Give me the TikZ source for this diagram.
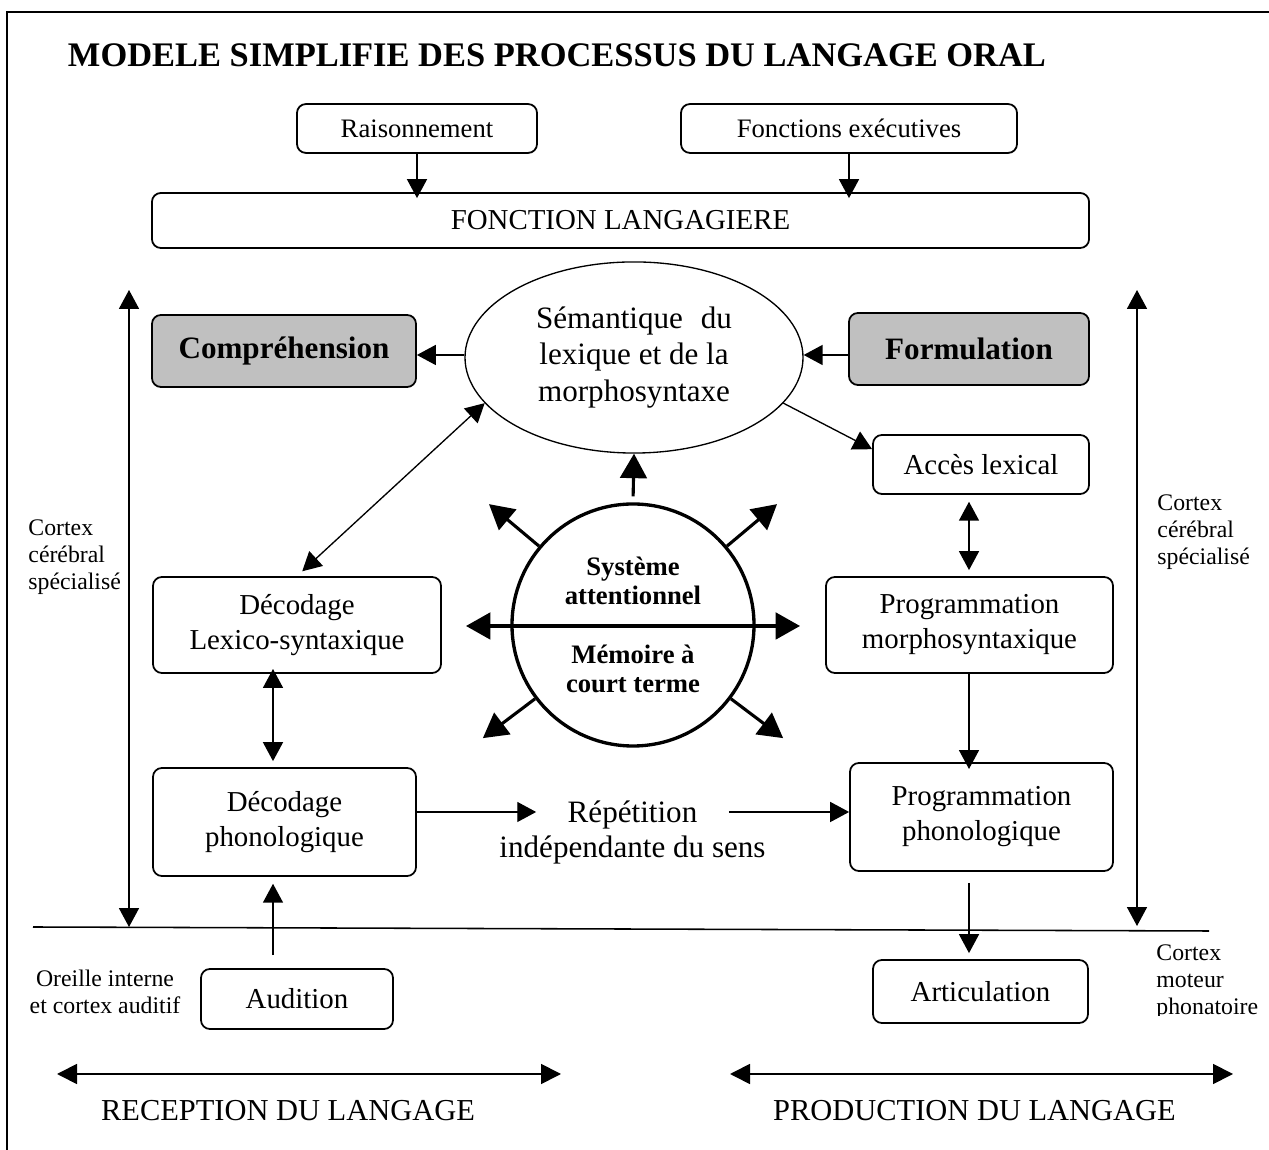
\documentclass[tikz,border=0pt]{standalone}
\usepackage{fontspec}
\setmainfont{Liberation Serif}
\usepackage{tikz}
\usetikzlibrary{positioning,shapes.geometric,arrows.meta}

\begin{document}
\begin{tikzpicture}[x=0.45pt,y=0.45pt,
  box/.style={draw=drawColor,line width=0.8pt,rounded corners=4pt,align=center,inner sep=0pt,font=\fontsize{13}{15.7}\selectfont},
  smallbox/.style={box,font=\fontsize{12}{14}\selectfont},
  greybox/.style={box,fill=fillColor,font=\bfseries\fontsize{14}{17}\selectfont},
  note/.style={align=left,inner sep=0pt,font=\fontsize{10.7}{12.2}\selectfont},
  biglabel/.style={inner sep=0pt,font=\fontsize{13.7}{16}\selectfont},
  conn/.style={draw=drawColor,line width=0.6pt,>={Triangle[length=8.5pt,width=9pt]},->},
  dconn/.style={conn,<->},
  boldconn/.style={draw=drawColor,line width=1.4pt,>={Triangle[length=11pt,width=12pt]},->},
  sideconn/.style={draw=drawColor,line width=0.8pt,>={Triangle[length=9pt,width=9pt]},<->}]
\definecolor{drawColor}{RGB}{0,0,0}
\definecolor{fillColor}{RGB}{192,192,192}
\path[use as bounding box] (0,0) rectangle (1269,1150);

% frame and title
\path[draw=drawColor,line width=0.7pt] (1269,1138) -- (7,1138) -- (7,0);
\node[inner sep=0pt,font=\bfseries\fontsize{15.5}{18}\selectfont] (title) at (557,1095) {MODELE SIMPLIFIE DES PROCESSUS DU LANGAGE ORAL};

% upper boxes
\node[smallbox,minimum width=108pt,minimum height=22pt] (rais) at (417,1021.5) {Raisonnement};
\node[smallbox,minimum width=151.2pt,minimum height=22pt] (fexec) at (849,1021.5) {Fonctions exécutives};
\node[box,minimum width=421.7pt,minimum height=24.75pt] (fonc) at (620.5,929.5) {FONCTION LANGAGIERE};
\path[conn,shorten >=-2.7pt] (rais.south) -- (rais.south |- fonc.north);
\path[conn,shorten >=-2.7pt] (fexec.south) -- (fexec.south |- fonc.north);

\node[greybox,minimum width=118.8pt,minimum height=32.4pt] (compr) at (284,799) {Compréhension};
\node[greybox,minimum width=108pt,minimum height=32.4pt] (form) at (969,801) {Formulation};
\node[draw=drawColor,line width=0.6pt,ellipse,minimum width=152.1pt,minimum height=86pt,inner sep=0pt,align=center,font=\fontsize{14}{16.4}\selectfont] (sem) at (634,792.5) {Sémantique\hspace{8pt}du\\lexique et de la\\morphosyntaxe};

% attention / memory
\node[circle,draw=drawColor,line width=1.5pt,minimum size=108.9pt,inner sep=0pt] (circ) at (633,525) {};
\node[above=9pt of circ.center,inner sep=0pt,align=center,font=\bfseries\fontsize{12}{13}\selectfont] (att) {Système\\attentionnel};
\node[below=9pt of circ.center,inner sep=0pt,align=center,font=\bfseries\fontsize{12}{13}\selectfont] (mem) {Mémoire à\\court terme};

% reception side
\node[box,minimum width=129.6pt,minimum height=43.2pt] (dlex) at (297,525) {Décodage\\Lexico-syntaxique};
\node[box,minimum width=118.35pt,minimum height=48.6pt] (dphon) at (284.5,328) {Décodage\\phonologique};
\node[box,minimum width=86.4pt,minimum height=27pt] (aud) at (297,151) {Audition};

% production side
\node[box,minimum width=97.2pt,minimum height=26.55pt] (acces) at (981,685.5) {Accès lexical};
\node[box,minimum width=129.15pt,minimum height=43.2pt] (pmorph) at (969.5,525) {Programmation\\morphosyntaxique};
\node[box,minimum width=118.35pt,minimum height=48.6pt] (pphon) at (981.5,333) {Programmation\\phonologique};
\node[box,minimum width=96.75pt,minimum height=28.35pt] (artic) at (980.5,158.5) {Articulation};

\node[anchor=base,inner xsep=14pt,inner ysep=0pt,font=\fontsize{14}{16}\selectfont] (rep) at (632.5,327) {Répétition};
\node[anchor=base,inner sep=0pt,font=\fontsize{14}{16}\selectfont] (repsens) at (632.5,292) {indépendante du sens};

% side labels
\node[note,anchor=west] (ctxL) at (28,593) {Cortex\\cérébral\\spécialisé};
\node[note,anchor=west] (ctxR) at (1157,618) {Cortex\\cérébral\\spécialisé};
\node[note,align=center] (oreille) at (105,158.5) {Oreille interne\\et cortex auditif};
\begin{scope}
\clip (1140,134) rectangle (1269,214);
\node[note,anchor=west] (ctxM) at (1156,168) {Cortex\\moteur\\phonatoire};
\end{scope}
\node[biglabel] (recep) at (288,39.5) {RECEPTION DU LANGAGE};
\node[biglabel] (prod) at (974.5,39.5) {PRODUCTION DU LANGAGE};

% helper coordinates
\coordinate (semrow) at (0,795);
\coordinate (rowR) at (0,338);
\coordinate (colL) at (273,0);
\coordinate (colR) at (969,0);
\coordinate (sepL) at (33,223);
\coordinate (sepR) at (1209,219);
\coordinate (ctxLtop) at (129,860);
\coordinate (ctxLbot) at (129,223);
\coordinate (ctxRtop) at (1137,860);
\coordinate (ctxRbot) at (1137,224);
\coordinate (attL) at (466,524);
\coordinate (attR) at (800,524);
\coordinate (recL) at (57,76);
\coordinate (recR) at (561,76);
\coordinate (prodL) at (730,76);
\coordinate (prodR) at (1233,76);

% connectors
\path[conn] (sem.west |- semrow) -- (compr.east |- semrow);
\path[conn] (form.west |- semrow) -- (sem.east |- semrow);
\path[conn] (sem.-17) -- (acces.172);
\path[dconn,shorten >=3.2pt] (sem.197) -- (dlex.north);
\path[dconn,shorten <=-2.2pt,shorten >=2.7pt] (dlex.south -| colL) -- (dphon.north -| colL);
\path[conn,shorten <=5.8pt,shorten >=3.1pt] (aud.north -| colL) -- (dphon.south -| colL);
\path[dconn,shorten <=3.1pt,shorten >=2.7pt] (acces.south -| colR) -- (pmorph.north -| colR);
\path[conn,shorten >=-3.1pt] (pmorph.south -| colR) -- (pphon.north -| colR);
\path[conn,shorten <=5pt,shorten >=2.7pt] (pphon.south -| colR) -- (artic.north -| colR);
\path[conn] (dphon.east |- rowR) -- (rep.west |- rowR);
\path[conn] (rep.east |- rowR) -- (pphon.west |- rowR);

% thick arrows round the circle
\path[boldconn,shorten <=2.7pt] (circ.north) -- (sem.south);
\path[boldconn,<->] (attL) -- (attR);
\foreach \a in {40,140,217,323} {
  \coordinate (rad\a) at ([shift={(\a:188)}]circ.center);
  \path[boldconn] (circ.\a) -- (rad\a);
}

% cortex limits
\path[draw=drawColor,line width=0.7pt] (sepL) -- (sepR);
\path[conn,<->] (ctxLtop) -- (ctxLbot);
\path[conn,<->] (ctxRtop) -- (ctxRbot);
\path[sideconn] (recL) -- (recR);
\path[sideconn] (prodL) -- (prodR);
\end{tikzpicture}
\end{document}
